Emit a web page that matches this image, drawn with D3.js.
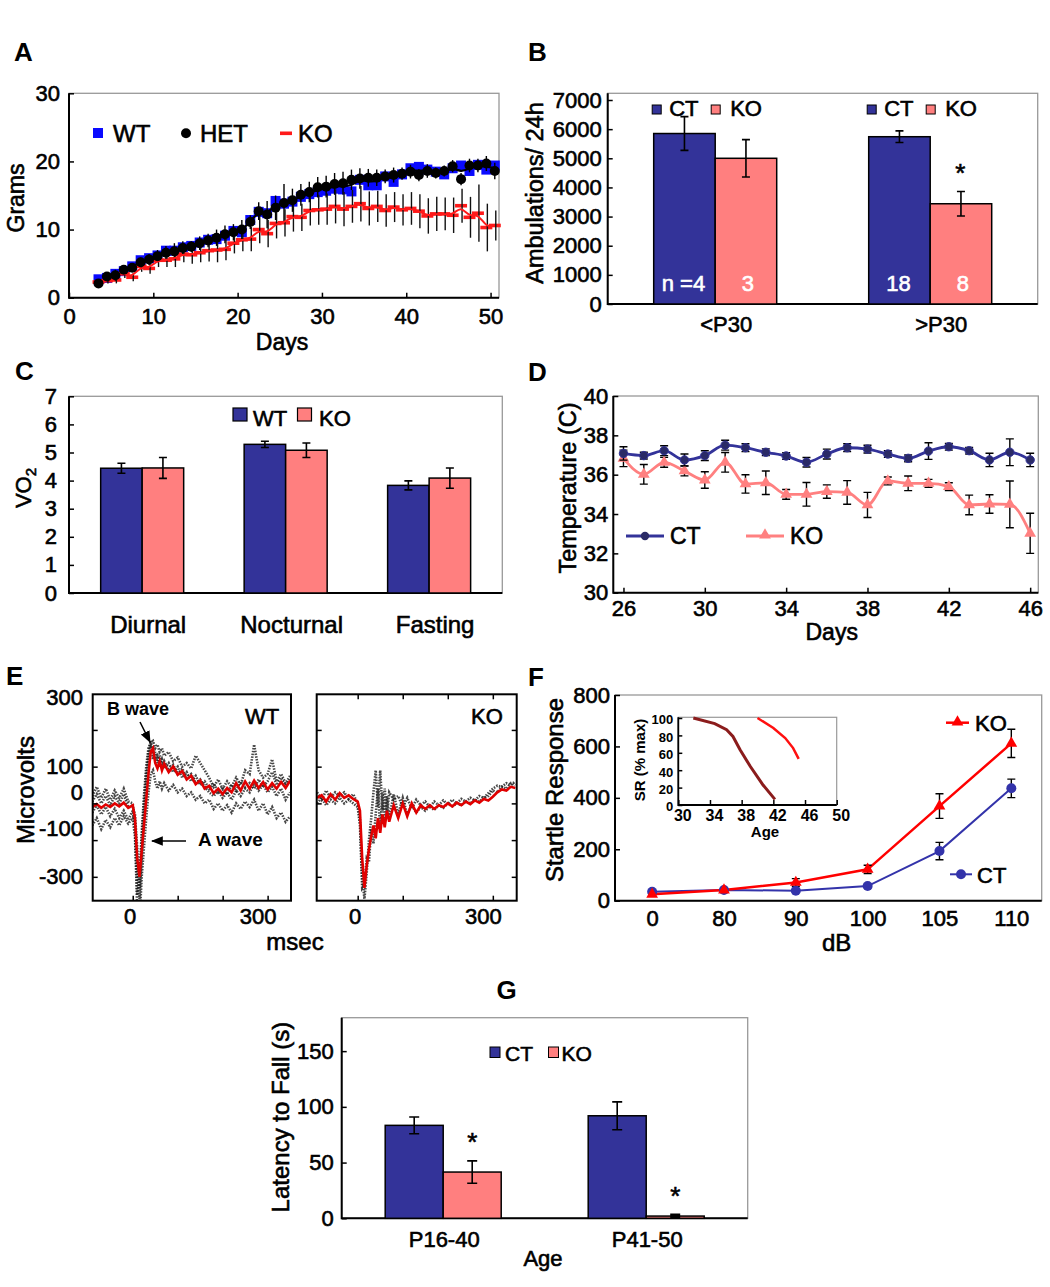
<!DOCTYPE html>
<html><head><meta charset="utf-8">
<script src="https://cdn.jsdelivr.net/npm/d3@7"></script>
<style>
body{margin:0;background:#fff;}
svg text{font-family:"Liberation Sans",Arial,Helvetica,sans-serif;}
</style></head><body>
<svg id="fig" width="1050" height="1287"></svg>
<script>
// ===================== DATA =====================
// Panel A: body weight (grams) vs days
const daysA = [3.5,4.5,5.5,6.5,7.5,8.5,9.5,10.5,11.5,12.5,13.5,14.5,15.5,16.5,17.5,18.5,19.5,20.5,21.5,22.5,23.5,24.5,25.5,26.5,27.5,28.5,29.5,30.5,31.5,32.5,33.5,34.5,35.5,36.5,37.5,38.5,39.5,40.5,41.5,42.5,43.5,44.5,45.5,46.5,47.5,48.5,49.5,50.5];
const wtA = [2.7,2.9,3.5,3.9,4.6,5.5,5.8,6.2,6.9,6.9,7.4,7.6,8.1,8.5,8.6,9.1,9.8,9.6,11.4,12.6,12.4,14.2,13.8,14.1,14.8,15.2,15.5,15.7,16.0,15.9,15.6,17.3,16.5,16.5,17.8,17.0,18.1,19.0,19.2,18.8,18.5,18.1,19.0,19.4,18.6,19.5,18.8,19.4];
const hetA = [2.1,3.1,3.3,4.1,4.4,5.2,5.6,6.1,6.6,6.8,7.3,7.5,8.0,8.4,8.8,9.3,9.6,10.0,11.1,12.7,12.2,13.2,13.9,14.3,15.1,15.5,16.2,16.3,16.7,16.8,17.3,17.5,17.6,17.6,17.8,18.0,18.2,18.5,18.0,18.6,18.3,18.6,19.3,17.4,19.4,19.4,19.7,18.6];
const hetErrA = [0.3,0.4,0.8,0.5,0.6,0.7,0.8,0.9,1.0,1.2,1.0,0.8,1.0,1.0,1.2,1.3,1.2,1.4,1.0,1.3,2.0,1.8,2.8,1.7,1.6,1.5,1.5,1.6,1.6,1.7,1.5,1.5,1.3,1.2,1.0,1.1,0.9,1.0,0.9,1.0,0.8,0.8,0.9,0.9,1.0,1.0,1.1,1.2];
const koA = [2.3,2.5,2.6,3.5,3.0,4.6,4.3,5.5,5.5,5.7,6.4,6.3,6.6,6.9,7.0,7.1,8.0,8.5,8.6,10.0,9.4,10.9,11.0,11.9,11.8,12.8,12.9,13.0,13.4,13.0,13.4,13.8,13.1,13.4,12.8,13.3,12.9,13.1,12.7,12.0,12.3,12.3,12.1,13.5,11.8,12.4,10.3,10.6];
const koErrA = [0.3,0.4,0.5,0.6,0.6,0.8,0.8,1.0,1.0,1.2,1.2,1.3,1.4,1.6,1.8,1.6,1.5,1.7,1.8,2.0,2.0,2.2,2.0,2.2,2.0,2.2,2.2,2.3,2.5,2.5,2.4,2.6,2.5,2.3,2.4,2.2,2.3,2.4,2.5,2.6,2.5,2.4,2.6,2.5,3.0,4.2,3.5,2.2];
const ticksAx = [0,10,20,30,40,50];
const ticksAy = [0,10,20,30];

// Panel B: ambulations
const groupsB = ["<P30", ">P30"];
const ctB = [5850, 5740];
const ctErrB = [580, 200];
const koB = [5000, 3440];
const koErrB = [640, 420];
const nCtB = ["n =4", "18"];
const nKoB = ["3", "8"];
const ticksB = [0,1000,2000,3000,4000,5000,6000,7000];

// Panel C: VO2
const catsC = ["Diurnal", "Nocturnal", "Fasting"];
const wtC = [4.44, 5.29, 3.83];
const wtErrC = [0.18, 0.11, 0.16];
const koC = [4.45, 5.08, 4.09];
const koErrC = [0.37, 0.26, 0.36];
const ticksC = [0,1,2,3,4,5,6,7];

// Panel D: temperature
const daysD = [26,27,28,29,30,31,32,33,34,35,36,37,38,39,40,41,42,43,44,45,46];
const ctD = [37.08,36.97,37.22,36.75,36.97,37.5,37.37,37.14,36.95,36.63,37.05,37.37,37.3,37.05,36.83,37.2,37.42,37.22,36.75,37.14,36.75];
const ctErrD = [0.34,0.17,0.25,0.3,0.25,0.25,0.2,0.17,0.17,0.24,0.25,0.2,0.2,0.17,0.17,0.42,0.17,0.17,0.34,0.68,0.34];
const koD = [36.83,36.02,36.63,36.19,35.73,36.63,35.53,35.59,35.0,35.0,35.14,35.1,34.46,35.68,35.56,35.56,35.39,34.46,34.51,34.49,33.02];
const koErrD = [0.42,0.5,0.25,0.25,0.42,0.5,0.47,0.6,0.25,0.6,0.34,0.6,0.64,0.2,0.37,0.2,0.2,0.5,0.47,1.19,1.02];
const ticksDx = [26,30,34,38,42,46];
const ticksDy = [30,32,34,36,38,40];

// Panel E: ERG traces (microvolts vs msec)
const timeE = [-90,-80,-70,-60,-50,-40,-30,-20,-10,0,5,10,15,20,25,30,35,40,45,50,55,60,65,70,80,90,100,110,120,130,140,150,160,170,180,190,200,210,220,230,240,250,260,270,280,290,300,310,320,330,340,350];
const wtMeanE = [-10,-2,-12,-3,-10,0,-8,2,-12,-5,-40,-150,-200,-130,-60,10,80,140,150,110,95,115,90,108,85,100,78,88,65,75,52,62,40,48,28,40,25,42,30,55,35,60,40,62,42,58,38,55,40,58,42,62];
const wtTrace1E = [20,45,15,40,10,35,15,40,5,0,-60,-250,-200,-80,20,100,150,165,170,150,160,140,150,130,140,115,125,100,110,95,130,110,90,70,45,65,40,60,45,70,50,90,80,160,90,70,80,120,60,80,55,75];
const wtTrace2E = [-60,-40,-70,-45,-65,-40,-60,-35,-55,-40,-90,-280,-320,-200,-120,-40,30,80,90,60,40,60,40,55,35,50,30,40,20,30,10,20,0,10,-15,0,-20,-5,-25,0,-15,5,-10,10,-20,0,-30,-10,-40,-25,-50,-35];
const wtTrace3E = [-25,-5,-30,-10,-35,-15,-40,-20,-45,-20,-60,-180,-260,-150,-30,60,120,160,140,120,130,100,120,95,110,85,100,70,85,60,75,50,60,40,55,30,45,25,50,35,60,45,55,40,65,45,60,85,50,70,45,65];
const wtTrace4E = [5,25,0,20,-5,20,0,25,-10,-10,-30,-120,-230,-100,0,80,140,170,120,140,110,130,100,115,90,105,80,95,70,80,55,65,45,30,20,35,15,30,10,35,20,40,30,55,35,50,30,45,20,40,10,30];
const koMeanE = [15,22,5,25,10,28,15,22,12,5,-20,-150,-230,-170,-125,-90,-60,-95,-40,-80,-30,-65,-20,-50,-5,-40,0,-35,0,-25,-5,-15,-5,-15,-5,-10,0,-8,2,-5,5,-2,8,2,12,8,18,30,38,35,45,42,52];
const koTrace1E = [30,10,35,15,30,20,30,12,25,0,-40,-200,-260,-190,-100,-40,30,90,-10,90,-20,40,-30,30,10,20,-10,15,-15,10,-5,5,-10,5,-5,8,-2,10,0,12,5,15,8,20,15,28,40,48,45,55,50,60];
const koTrace2E = [0,15,-5,10,0,15,0,10,0,-10,-60,-230,-220,-150,-160,-70,-110,-30,40,-70,30,-50,20,-40,25,-30,15,-30,-5,-25,-10,-20,-8,-18,-5,-12,0,-8,0,-5,5,0,10,5,15,20,35,30,45,40,55,50];
const ticksEx = [0,100,200,300];
const labelsEx = ["0","300"];
const ticksEy = [-200,-100,0,100,200];
const labelsEy = ["300","100","0","-100","-300"];
const labelsEyAt = [289,102,32,-68,-198];

// Panel F: startle response
const dbF = ["0","80","90","100","105","110"];
const ctF = [35,41.5,39,57,193,437];
const ctErrF = [5,5,5,6,34,36];
const koF = [25,41.5,71,122,368,612];
const koErrF = [5,5,15,16,48,55];
const ticksFy = [0,200,400,600,800];
// inset
const insetDarkAge = [31.9,34.6,36.1,36.9,37.8,39.1,40.7,42.2];
const insetDarkSR = [100,93.5,86.5,78.8,63.5,44.2,23,6.5];
const insetRedAge = [40.0,42.0,43.5,44.5,45.2];
const insetRedSR = [100,88.5,77,65.4,53];
const ticksInX = [30,34,38,42,46,50];
const ticksInY = [0,20,40,60,80,100];

// Panel G: latency to fall
const agesG = ["P16-40","P41-50"];
const ctG = [83.4, 92];
const ctErrG = [7.5, 12.5];
const koG = [41.5, 2];
const koErrG = [10, 1];
const ticksG = [0,50,100,150];

// ===================== HELPERS =====================
const FONT = '"Liberation Sans", Arial, Helvetica, sans-serif';
const NAVY = "#333399", PINK = "#FF7F7F";
const svg = d3.select("#fig");
svg.append("rect").attr("width",1050).attr("height",1287).attr("fill","#fff");

function txt(g, x, y, s, o = {}) {
  const fill = o.fill || "#000";
  const t = g.append("text").attr("x", x).attr("y", y).text(s)
    .attr("font-size", o.size || 22)
    .attr("font-weight", o.weight || "normal")
    .attr("text-anchor", o.anchor || "start")
    .attr("fill", fill)
    .attr("stroke", o.weight === "bold" ? "none" : fill)
    .attr("stroke-width", 0.6)
    .style("font-family", FONT);
  if (o.rotate) t.attr("transform", `rotate(-90,${x},${y})`);
  return t;
}
function frame(g, x0, x1, y0, y1, allBlack) {
  g.append("rect").attr("x", x0).attr("y", y0).attr("width", x1 - x0).attr("height", y1 - y0)
    .attr("fill", "none").attr("stroke", allBlack ? "#000" : "#999").attr("stroke-width", allBlack ? 2 : 1.3);
  g.append("path").attr("d", `M${x0},${y0}V${y1}H${x1}`).attr("fill", "none")
    .attr("stroke", "#000").attr("stroke-width", 2);
}
function styleAxis(a, o) {
  a.select(".domain").remove();
  a.selectAll(".tick line").attr("stroke", "#000").attr("stroke-width", 1.5);
  a.selectAll(".tick text").attr("font-size", o.size || 22).attr("font-weight", o.weight || "normal")
    .attr("fill", "#000").attr("stroke", o.weight === "bold" ? "none" : "#000").attr("stroke-width", 0.6)
    .style("font-family", FONT);
}
function axisLeft(g, scale, x, ticks, o = {}) {
  const a = g.append("g").attr("transform", `translate(${x},0)`)
    .call(d3.axisLeft(scale).tickValues(ticks).tickFormat(o.fmt || (d => d))
      .tickSizeInner(-(o.tick ?? 5)).tickSizeOuter(0).tickPadding(o.pad ?? 8));
  styleAxis(a, o);
  return a;
}
function axisRight(g, scale, x, ticks, o = {}) {
  const a = g.append("g").attr("transform", `translate(${x},0)`)
    .call(d3.axisRight(scale).tickValues(ticks).tickFormat(() => "")
      .tickSizeInner(-(o.tick ?? 5)).tickSizeOuter(0));
  styleAxis(a, o);
  return a;
}
function axisBottom(g, scale, y, ticks, o = {}) {
  const a = g.append("g").attr("transform", `translate(0,${y})`)
    .call(d3.axisBottom(scale).tickValues(ticks).tickFormat(o.fmt || (d => d))
      .tickSizeInner(-(o.tick ?? 5)).tickSizeOuter(0).tickPadding(o.pad ?? 8));
  styleAxis(a, o);
  return a;
}
function axisTop(g, scale, y, ticks, o = {}) {
  const a = g.append("g").attr("transform", `translate(0,${y})`)
    .call(d3.axisTop(scale).tickValues(ticks).tickFormat(() => "")
      .tickSizeInner(-(o.tick ?? 5)).tickSizeOuter(0));
  styleAxis(a, o);
  return a;
}
function errBar(g, x, yTop, yBot, cap, w) {
  g.append("path").attr("d", `M${x - cap},${yTop}H${x + cap}M${x},${yTop}V${yBot}M${x - cap},${yBot}H${x + cap}`)
    .attr("stroke", "#000").attr("stroke-width", w || 1.6).attr("fill", "none");
}
function panelLetter(x, y, s) { txt(svg, x, y, s, { size: 26, weight: "bold" }); }

// ===================== PANEL A =====================
(function () {
  const g = svg.append("g");
  const x = d3.scaleLinear().domain([0, 51]).range([69, 499]);
  const y = d3.scaleLinear().domain([0, 30]).range([297.7, 93.3]);
  frame(g, 69, 499, 93.3, 297.7);
  axisLeft(g, y, 69, ticksAy, { pad: 9, size: 22 });
  axisBottom(g, x, 297.7, ticksAx, { pad: 11, size: 22 });
  g.selectAll(".wt").data(daysA).join("rect")
    .attr("x", (d) => x(d) - 5).attr("y", (d, i) => y(wtA[i]) - 5)
    .attr("width", 10).attr("height", 10).attr("fill", "#0a0aff");
  g.selectAll(".ko").data(daysA).join("rect")
    .attr("x", (d) => x(d) - 6).attr("y", (d, i) => y(koA[i]) - 1.8)
    .attr("width", 12).attr("height", 3.6).attr("fill", "#ff1a1a");
  daysA.forEach((d, i) => {
    g.append("line").attr("x1", x(d)).attr("x2", x(d)).attr("y1", y(hetA[i] - hetErrA[i])).attr("y2", y(hetA[i] + hetErrA[i]))
      .attr("stroke", "#000").attr("stroke-width", 1.4);
    g.append("line").attr("x1", x(d) + 1).attr("x2", x(d) + 1).attr("y1", y(koA[i] - koErrA[i])).attr("y2", y(koA[i] + koErrA[i]))
      .attr("stroke", "#111").attr("stroke-width", 1.4);
  });
  const idx = daysA.map((d, i) => i).filter(i => daysA[i] >= 6.5);
  g.append("path").datum(idx).attr("fill", "none").attr("stroke", "#ff1a1a").attr("stroke-width", 2)
    .attr("d", d3.line().x(i => x(daysA[i])).y(i => y(koA[i])).curve(d3.curveBasis));
  g.append("path").datum(idx).attr("fill", "none").attr("stroke", "#000").attr("stroke-width", 2.2)
    .attr("d", d3.line().x(i => x(daysA[i])).y(i => y((hetA[i] + wtA[i]) / 2)).curve(d3.curveBasis));
  g.selectAll(".het").data(daysA).join("circle")
    .attr("cx", (d) => x(d)).attr("cy", (d, i) => y(hetA[i])).attr("r", 5).attr("fill", "#000");
  g.append("rect").attr("x", 93).attr("y", 128).attr("width", 10).attr("height", 10).attr("fill", "#0a0aff");
  txt(g, 113, 142, "WT", { size: 24 });
  g.append("circle").attr("cx", 186).attr("cy", 133.3).attr("r", 5).attr("fill", "#000");
  txt(g, 200, 142, "HET", { size: 24 });
  g.append("rect").attr("x", 280).attr("y", 131.5).attr("width", 12).attr("height", 3.6).attr("fill", "#ff1a1a");
  txt(g, 298, 142, "KO", { size: 24 });
  txt(g, 282, 350, "Days", { size: 23, anchor: "middle" });
  txt(g, 23.5, 198, "Grams", { size: 23, anchor: "middle", rotate: true });
  panelLetter(14, 61, "A");
})();

// ===================== PANEL B =====================
(function () {
  const g = svg.append("g");
  const x = d3.scalePoint().domain(groupsB).range([607.7, 1037.7]).padding(0.5);
  const sub = d3.scaleBand().domain(["CT", "KO"]).range([-61.5, 61.5]);
  const y = d3.scaleLinear().domain([0, 7230]).range([304, 93.3]);
  frame(g, 607.7, 1037.7, 93.3, 304);
  axisLeft(g, y, 607.7, ticksB, { pad: 6, size: 22 });
  groupsB.forEach((grp, i) => {
    const cx = x(grp);
    g.append("rect").attr("x", cx + sub("CT")).attr("y", y(ctB[i])).attr("width", sub.bandwidth()).attr("height", y(0) - y(ctB[i]))
      .attr("fill", NAVY).attr("stroke", "#000").attr("stroke-width", 1.5);
    g.append("rect").attr("x", cx + sub("KO")).attr("y", y(koB[i])).attr("width", sub.bandwidth()).attr("height", y(0) - y(koB[i]))
      .attr("fill", PINK).attr("stroke", "#000").attr("stroke-width", 1.5);
    const cxCT = cx + sub("CT") + sub.bandwidth() / 2, cxKO = cx + sub("KO") + sub.bandwidth() / 2;
    errBar(g, cxCT, y(ctB[i] + ctErrB[i]), y(ctB[i] - ctErrB[i]), 4);
    errBar(g, cxKO, y(koB[i] + koErrB[i]), y(koB[i] - koErrB[i]), 4);
    txt(g, cxCT - 1, 291, nCtB[i], { size: 22, anchor: "middle", fill: "#fff" });
    txt(g, cxKO + 2, 291, nKoB[i], { size: 22, anchor: "middle", fill: "#fff" });
    g.append("rect").attr("x", cx - 63).attr("y", 105).attr("width", 9).attr("height", 9).attr("fill", NAVY).attr("stroke", "#000").attr("stroke-width", 1);
    txt(g, cx - 46, 116, "CT", { size: 22 });
    g.append("rect").attr("x", cx - 4).attr("y", 105).attr("width", 9).attr("height", 9).attr("fill", PINK).attr("stroke", "#000").attr("stroke-width", 1);
    txt(g, cx + 15, 116, "KO", { size: 22 });
    txt(g, cx + 11, 332, grp, { size: 22, anchor: "middle" });
  });
  txt(g, x(">P30") + 30, 182, "*", { size: 26, anchor: "middle" });
  txt(g, 543, 193, "Ambulations/ 24h", { size: 23.5, anchor: "middle", rotate: true });
  panelLetter(528, 61, "B");
})();

// ===================== PANEL C =====================
(function () {
  const g = svg.append("g");
  const x = d3.scalePoint().domain(catsC).range([69, 502.3]).padding(0.51);
  const y = d3.scaleLinear().domain([0, 7]).range([593, 396.3]);
  const bw = 41.5;
  frame(g, 69, 502.3, 396.3, 593);
  axisLeft(g, y, 69, ticksC, { pad: 12, size: 22 });
  catsC.forEach((c, i) => {
    const cx = x(c);
    g.append("rect").attr("x", cx - bw).attr("y", y(wtC[i])).attr("width", bw).attr("height", y(0) - y(wtC[i]))
      .attr("fill", NAVY).attr("stroke", "#000").attr("stroke-width", 1.5);
    g.append("rect").attr("x", cx).attr("y", y(koC[i])).attr("width", bw).attr("height", y(0) - y(koC[i]))
      .attr("fill", PINK).attr("stroke", "#000").attr("stroke-width", 1.5);
    errBar(g, cx - bw / 2, y(wtC[i] + wtErrC[i]), y(wtC[i] - wtErrC[i]), 4);
    errBar(g, cx + bw / 2, y(koC[i] + koErrC[i]), y(koC[i] - koErrC[i]), 4);
    txt(g, cx + 6, 633, c, { size: 24, anchor: "middle" });
  });
  g.append("rect").attr("x", 233).attr("y", 408).attr("width", 14).attr("height", 13).attr("fill", NAVY).attr("stroke", "#000").attr("stroke-width", 1.2);
  txt(g, 253, 426, "WT", { size: 22 });
  g.append("rect").attr("x", 297.5).attr("y", 408).attr("width", 14).attr("height", 13).attr("fill", PINK).attr("stroke", "#000").attr("stroke-width", 1.2);
  txt(g, 319, 426, "KO", { size: 22 });
  const t = txt(g, 31, 488, "", { size: 22, anchor: "middle", rotate: true });
  t.append("tspan").text("VO");
  t.append("tspan").text("2").attr("font-size", 15).attr("dy", 5);
  panelLetter(15, 380, "C");
})();

// ===================== PANEL D =====================
(function () {
  const g = svg.append("g");
  const x = d3.scaleLinear().domain([25.5, 46.4]).range([613.3, 1038.3]);
  const y = d3.scaleLinear().domain([30, 40]).range([592.7, 396]);
  frame(g, 613.3, 1038.3, 396, 592.7);
  axisLeft(g, y, 613.3, ticksDy, { pad: 5, size: 22 });
  axisBottom(g, x, 592.7, ticksDx, { pad: 8, size: 22 });
  const lineD = d3.line().x((d, i) => x(daysD[i])).y(d => y(d)).curve(d3.curveMonotoneX);
  g.append("path").datum(koD).attr("d", lineD).attr("fill", "none").attr("stroke", "#ff8080").attr("stroke-width", 2.8);
  koD.forEach((v, i) => errBar(g, x(daysD[i]), y(v + koErrD[i]), y(v - koErrD[i]), 4, 1.4));
  g.selectAll(".koD").data(koD).join("path")
    .attr("transform", (d, i) => `translate(${x(daysD[i])},${y(d)})`)
    .attr("d", d3.symbol(d3.symbolTriangle, 60)).attr("fill", "#ff8080");
  g.append("path").datum(ctD).attr("d", lineD).attr("fill", "none").attr("stroke", NAVY).attr("stroke-width", 2.8);
  ctD.forEach((v, i) => errBar(g, x(daysD[i]), y(v + ctErrD[i]), y(v - ctErrD[i]), 4, 1.4));
  g.selectAll(".ctD").data(ctD).join("circle")
    .attr("cx", (d, i) => x(daysD[i])).attr("cy", d => y(d)).attr("r", 4.2)
    .attr("fill", "#2a2a66").attr("stroke", NAVY).attr("stroke-width", 1);
  g.append("line").attr("x1", 626).attr("x2", 664).attr("y1", 536).attr("y2", 536).attr("stroke", NAVY).attr("stroke-width", 2.8);
  g.append("circle").attr("cx", 645).attr("cy", 536).attr("r", 4.2).attr("fill", "#2a2a66");
  txt(g, 670, 544, "CT", { size: 23 });
  g.append("line").attr("x1", 746).attr("x2", 784).attr("y1", 536).attr("y2", 536).attr("stroke", "#ff8080").attr("stroke-width", 2.8);
  g.append("path").attr("transform", "translate(765,535)").attr("d", d3.symbol(d3.symbolTriangle, 60)).attr("fill", "#ff8080");
  txt(g, 790, 544, "KO", { size: 23 });
  txt(g, 831.7, 639.5, "Days", { size: 23, anchor: "middle" });
  txt(g, 576, 488, "Temperature (C)", { size: 23.5, anchor: "middle", rotate: true });
  panelLetter(528, 381, "D");
})();

// ===================== PANEL E =====================
(function () {
  const g = svg.append("g");
  const y = d3.scaleLinear().domain([-265, 297]).range([900.7, 694.3]);
  const x1 = d3.scaleLinear().domain([-89, 352]).range([92.7, 291]);
  const x2 = d3.scaleLinear().domain([-91, 353]).range([316.7, 516.7]);
  function panel(x, x0, xEnd, traces, mean, name, nameX, isWT) {
    const clipId = "clip" + name;
    g.append("clipPath").attr("id", clipId).append("rect").attr("x", x0).attr("y", 694.3).attr("width", xEnd - x0).attr("height", 900.7 - 694.3);
    const pg = g.append("g").attr("clip-path", `url(#${clipId})`);
    const ln = d3.line().x((d, i) => x(timeE[i])).y(d => y(d));
    traces.forEach(tr => {
      pg.append("path").datum(tr).attr("d", ln).attr("fill", "none").attr("stroke", "#1a1a1a")
        .attr("stroke-width", 2.6).attr("stroke-dasharray", "1.5,1.3").attr("opacity", 0.8);
    });
    pg.append("path").datum(mean).attr("d", ln).attr("fill", "none").attr("stroke", "#e00000").attr("stroke-width", 2.6);
    g.append("rect").attr("x", x0).attr("y", 694.3).attr("width", xEnd - x0).attr("height", 900.7 - 694.3)
      .attr("fill", "none").attr("stroke", "#000").attr("stroke-width", 2);
    const ab = axisBottom(g, x, 900.7, ticksEx, { pad: 8, size: 22, fmt: d => (labelsEx.includes(String(d)) ? String(d) : "") });
    ab.selectAll(".tick text").attr("dx", d => (d === 300 ? -10 : -3));
    axisLeft(g, y, x0, ticksEy, { pad: 8, size: 22, fmt: () => "" });
    if (!isWT) {
      axisTop(g, x, 694.3, ticksEx, {});
      axisRight(g, y, xEnd, ticksEy, {});
    }
    txt(g, nameX, 724, name, { size: 22 });
  }
  panel(x1, 92.7, 291, [wtTrace1E, wtTrace2E, wtTrace3E, wtTrace4E], wtMeanE, "WT", 245, true);
  panel(x2, 316.7, 516.7, [koTrace1E, koTrace2E], koMeanE, "KO", 471, false);
  labelsEy.forEach((s, i) => txt(g, 83, y(labelsEyAt[i]) + 8, s, { size: 22, anchor: "end" }));
  txt(g, 107, 715, "B wave", { size: 18, weight: "bold" });
  txt(g, 198, 846, "A wave", { size: 19, weight: "bold" });
  const defs = svg.append("defs");
  defs.append("marker").attr("id", "arrowE").attr("viewBox", "0 0 10 10").attr("refX", 9).attr("refY", 5)
    .attr("markerWidth", 8).attr("markerHeight", 8).attr("orient", "auto-start-reverse")
    .append("path").attr("d", "M0,1L10,5L0,9z").attr("fill", "#000");
  g.append("line").attr("x1", 140).attr("y1", 722).attr("x2", 150).attr("y2", 742).attr("stroke", "#000").attr("stroke-width", 1.5).attr("marker-end", "url(#arrowE)");
  g.append("line").attr("x1", 186).attr("y1", 841).attr("x2", 152).attr("y2", 841).attr("stroke", "#000").attr("stroke-width", 1.5).attr("marker-end", "url(#arrowE)");
  txt(g, 295, 950, "msec", { size: 24, anchor: "middle" });
  txt(g, 34, 790, "Microvolts", { size: 24, anchor: "middle", rotate: true });
  panelLetter(6, 685, "E");
})();

// ===================== PANEL F =====================
(function () {
  const g = svg.append("g");
  const x = d3.scalePoint().domain(dbF).range([615, 1041.7]).padding(0.47).align(0.55);
  const y = d3.scaleLinear().domain([0, 800]).range([900.7, 695]);
  frame(g, 615, 1041.7, 695, 900.7);
  axisLeft(g, y, 615, ticksFy, { pad: 5, size: 22 });
  axisBottom(g, x, 900.7, dbF, { pad: 10, size: 22, tick: 0 });
  const ln = d3.line().x((d, i) => x(dbF[i])).y(d => y(d));
  g.append("path").datum(ctF).attr("d", ln).attr("fill", "none").attr("stroke", "#3333aa").attr("stroke-width", 2);
  g.append("path").datum(koF).attr("d", ln).attr("fill", "none").attr("stroke", "#ff0000").attr("stroke-width", 2.5);
  ctF.forEach((v, i) => errBar(g, x(dbF[i]), y(v + ctErrF[i]), y(v - ctErrF[i]), 4, 1.4));
  koF.forEach((v, i) => errBar(g, x(dbF[i]), y(v + koErrF[i]), y(v - koErrF[i]), 4, 1.4));
  g.selectAll(".ctF").data(ctF).join("circle").attr("cx", (d, i) => x(dbF[i])).attr("cy", d => y(d)).attr("r", 5).attr("fill", "#3333aa");
  g.selectAll(".koF").data(koF).join("path").attr("transform", (d, i) => `translate(${x(dbF[i])},${y(d)})`)
    .attr("d", d3.symbol(d3.symbolTriangle, 60)).attr("fill", "#ff0000");
  g.append("line").attr("x1", 946).attr("x2", 969).attr("y1", 722.7).attr("y2", 722.7).attr("stroke", "#ff0000").attr("stroke-width", 2.5);
  g.append("path").attr("transform", "translate(957.5,722)").attr("d", d3.symbol(d3.symbolTriangle, 60)).attr("fill", "#ff0000");
  txt(g, 975, 731, "KO", { size: 22 });
  g.append("line").attr("x1", 950).attr("x2", 972).attr("y1", 874.3).attr("y2", 874.3).attr("stroke", "#3333aa").attr("stroke-width", 2);
  g.append("circle").attr("cx", 961).attr("cy", 874.3).attr("r", 5).attr("fill", "#3333aa");
  txt(g, 977, 882.5, "CT", { size: 22 });
  txt(g, 836.7, 951, "dB", { size: 24, anchor: "middle" });
  txt(g, 563, 790, "Startle Response", { size: 24, anchor: "middle", rotate: true });
  // inset
  const xi = d3.scaleLinear().domain([30, 50]).range([678.3, 836.7]);
  const yi = d3.scaleLinear().domain([0, 100]).range([805, 718]);
  g.append("rect").attr("x", 678.3).attr("y", 717.3).attr("width", 836.7 - 678.3).attr("height", 805 - 717.3).attr("fill", "#fff").attr("stroke", "#999").attr("stroke-width", 1.2);
  g.append("path").attr("d", "M678.3,717.3V805H836.7").attr("fill", "none").attr("stroke", "#000").attr("stroke-width", 1.8);
  const axy = axisLeft(g, yi, 678.3, ticksInY, { pad: 5, size: 13, weight: "bold", tick: 4 });
  axy.selectAll(".tick text").attr("dy", "0.45em");
  axisBottom(g, xi, 805, ticksInX, { pad: 5, size: 16, weight: "bold", tick: 5 }).selectAll(".tick text").attr("dx", 4);
  g.append("path").datum(insetDarkAge.map((a, i) => [xi(a), yi(insetDarkSR[i])])).attr("d", d3.line()).attr("fill", "none").attr("stroke", "#8b1c1c").attr("stroke-width", 3);
  g.append("path").datum(insetRedAge.map((a, i) => [xi(a), yi(insetRedSR[i])])).attr("d", d3.line()).attr("fill", "none").attr("stroke", "#ff1010").attr("stroke-width", 2.5);
  txt(g, 765, 837, "Age", { size: 15, weight: "bold", anchor: "middle" });
  txt(g, 645, 760, "SR (% max)", { size: 15, weight: "bold", anchor: "middle", rotate: true });
  panelLetter(528, 686, "F");
})();

// ===================== PANEL G =====================
(function () {
  const g = svg.append("g");
  const x = d3.scalePoint().domain(agesG).range([341.7, 747.7]).padding(0.5);
  const y = d3.scaleLinear().domain([0, 180]).range([1218.3, 1017.7]);
  const bw = 58;
  frame(g, 341.7, 747.7, 1017.7, 1218.3);
  axisLeft(g, y, 341.7, ticksG, { pad: 8, size: 22 });
  agesG.forEach((a, i) => {
    const cx = x(a);
    g.append("rect").attr("x", cx - bw).attr("y", y(ctG[i])).attr("width", bw).attr("height", y(0) - y(ctG[i]))
      .attr("fill", NAVY).attr("stroke", "#000").attr("stroke-width", 1.5);
    g.append("rect").attr("x", cx).attr("y", y(koG[i])).attr("width", bw).attr("height", y(0) - y(koG[i]))
      .attr("fill", PINK).attr("stroke", "#000").attr("stroke-width", 1.5);
    errBar(g, cx - bw / 2, y(ctG[i] + ctErrG[i]), y(ctG[i] - ctErrG[i]), 5);
    errBar(g, cx + bw / 2, y(koG[i] + koErrG[i]), y(koG[i] - koErrG[i]), 5, i === 1 ? 3 : 1.6);
    txt(g, cx + bw / 2, y(koG[i] + koErrG[i]) - 10, "*", { size: 26, anchor: "middle" });
    txt(g, cx + 1, 1247, a, { size: 22, anchor: "middle" });
  });
  g.append("rect").attr("x", 490).attr("y", 1047).attr("width", 10).attr("height", 10.5).attr("fill", NAVY).attr("stroke", "#000").attr("stroke-width", 1);
  txt(g, 505, 1061, "CT", { size: 21 });
  g.append("rect").attr("x", 548.5).attr("y", 1047).attr("width", 10).attr("height", 10.5).attr("fill", PINK).attr("stroke", "#000").attr("stroke-width", 1);
  txt(g, 561.5, 1061, "KO", { size: 21 });
  txt(g, 543, 1266, "Age", { size: 22, anchor: "middle" });
  txt(g, 289, 1117, "Latency to Fall (s)", { size: 24, anchor: "middle", rotate: true });
  txt(svg, 506.7, 999, "G", { size: 26, weight: "bold", anchor: "middle" });
})();
</script>
</body></html>
